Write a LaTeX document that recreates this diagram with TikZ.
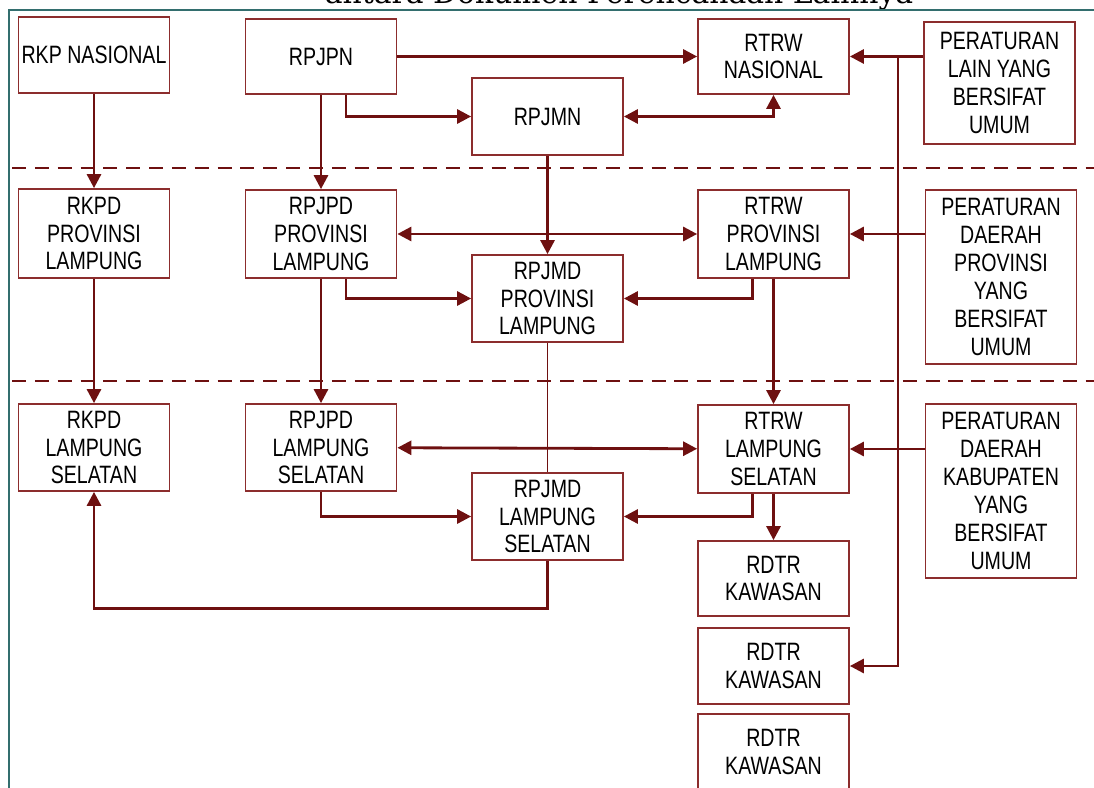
\documentclass[tikz,border=0pt]{standalone}
\usepackage{fontspec}
\setmainfont{Liberation Sans}[FakeStretch=0.78]
\newfontfamily\titlefont{DejaVu Serif}
\usetikzlibrary{calc}
\usetikzlibrary{arrows.meta}

\definecolor{arrred}{HTML}{6E1010}
\definecolor{boxred}{HTML}{8C2D2D}
\definecolor{frameteal}{HTML}{336E6E}
\newcommand\boxfont{\fontsize{14.3}{15.9}\selectfont}

\tikzset{
  box/.style={draw=boxred, line width=1pt, fill=white, minimum width=3.02cm,
    align=center, inner sep=0pt, font=\boxfont},
  arr/.style={draw=arrred, line width=1.6pt,
    -{Triangle[length=8pt,width=8pt]}},
  dblarr/.style={draw=arrred, line width=1.6pt,
    {Triangle[length=8pt,width=8pt]}-{Triangle[length=8pt,width=8pt]}},
  thinline/.style={draw=arrred, line width=0.7pt},
  sepline/.style={draw=arrred, line width=1.2pt, dash pattern=on 8pt off 5pt}
}

\begin{document}
\begin{tikzpicture}[x=0.02cm, y=-0.02cm]
      \useasboundingbox (0,0) rectangle (1094,787);
      \clip (0,0) rectangle (1094,787);

      % title, cut at the top
      \node[anchor=base, font=\titlefont\fontsize{17}{20}\selectfont, inner sep=0pt]
        (title) at (619,4) {antara Dokumen Perencanaan Lainnya};
      \draw[frameteal, line width=1.2pt] (9,800) -- (9,10) -- (1100,10);

      % level separators
      \draw[sepline] (12,168) -- (1094,168);
      \draw[sepline] (12,381) -- (1094,381);

      % national level
      \node[box, minimum height=1.52cm] (rkpnas) at (94,55) {RKP NASIONAL};
      \node[box, minimum height=1.5cm] (rpjpn) at (321,56.5) {RPJPN};
      \node[box, minimum height=1.5cm] (rtrwnas) at (773.5,56.5) {RTRW\\NASIONAL};
      \node[box, minimum height=2.44cm] (perlain) at (999.5,83)
        {PERATURAN\\LAIN YANG\\BERSIFAT\\UMUM};
      \node[box, minimum height=1.54cm] (rpjmn) at (547.5,116.5) {RPJMN};

      % province level
      \node[box, minimum height=1.78cm] (rkpdprov) at (94,233.5) {RKPD\\PROVINSI\\LAMPUNG};
      \node[box, minimum height=1.76cm] (rpjpdprov) at (321,234) {RPJPD\\PROVINSI\\LAMPUNG};
      \node[box, minimum height=1.76cm] (rtrwprov) at (773.5,234) {RTRW\\PROVINSI\\LAMPUNG};
      \node[box, minimum height=3.48cm] (perprov) at (1001,277)
        {PERATURAN\\DAERAH\\PROVINSI\\YANG\\BERSIFAT\\UMUM};
      \node[box, minimum height=1.74cm] (rpjmdprov) at (547.5,298.5) {RPJMD\\PROVINSI\\LAMPUNG};

      % regency level
      \node[box, minimum height=1.74cm] (rkpdls) at (94,447.5) {RKPD\\LAMPUNG\\SELATAN};
      \node[box, minimum height=1.74cm] (rpjpdls) at (321,447.5) {RPJPD\\LAMPUNG\\SELATAN};
      \node[box, minimum height=1.76cm] (rtrwls) at (773.5,449) {RTRW\\LAMPUNG\\SELATAN};
      \node[box, minimum height=3.48cm] (perkab) at (1001,491)
        {PERATURAN\\DAERAH\\KABUPATEN\\YANG\\BERSIFAT\\UMUM};
      \node[box, minimum height=1.74cm] (rpjmdls) at (547.5,516.5) {RPJMD\\LAMPUNG\\SELATAN};
      \node[box, minimum height=1.5cm] (rdtra) at (773.5,578.5) {RDTR\\KAWASAN};
      \node[box, minimum height=1.52cm] (rdtrb) at (773.5,666) {RDTR\\KAWASAN};
      \node[box, minimum height=1.52cm] (rdtrc) at (773.5,752) {RDTR\\KAWASAN};

      \coordinate (bus) at (898,56.5);

      % national arrows
      \draw[arr] (rkpnas) -- (rkpdprov);
      \draw[arr] (rpjpn) -- (rpjpdprov);
      \draw[arr] (rpjpn) -- (rtrwnas);
      \draw[arr] ($(rpjpn.south)+(25,0)$) |- (rpjmn);
      \draw[dblarr] (rpjmn) -| (rtrwnas);
      \draw[arr] (perlain.west |- rtrwnas.east) -- (rtrwnas);
      \draw[arr] (bus) |- (rdtrb);
      \draw[arr] (rpjmn) -- (rpjmdprov);

      % province arrows
      \draw[dblarr] (rpjpdprov) -- (rtrwprov);
      \draw[arr] (perprov.west |- rtrwprov.east) -- (rtrwprov);
      \draw[arr] ($(rpjpdprov.south)+(25,0)$) |- (rpjmdprov);
      \draw[arr] ($(rtrwprov.south)+(-21,0)$) |- (rpjmdprov);
      \draw[arr] (rkpdprov) -- (rkpdls);
      \draw[arr] (rpjpdprov) -- (rpjpdls);
      \draw[arr] (rtrwprov) -- (rtrwls);
      \draw[thinline] (rpjmdprov) -- (rpjmdls);

      % regency arrows
      \draw[dblarr] (rpjpdls) -- (rtrwls);
      \draw[arr] (perkab.west |- rtrwls.east) -- (rtrwls);
      \draw[arr] (rpjpdls.south) |- (rpjmdls);
      \draw[arr] ($(rtrwls.south)+(-21,0)$) |- (rpjmdls);
      \draw[arr] (rtrwls) -- (rdtra);
      \draw[arr] (rpjmdls.south) -- ++(0,48) -| (rkpdls.south);
\end{tikzpicture}
\end{document}
